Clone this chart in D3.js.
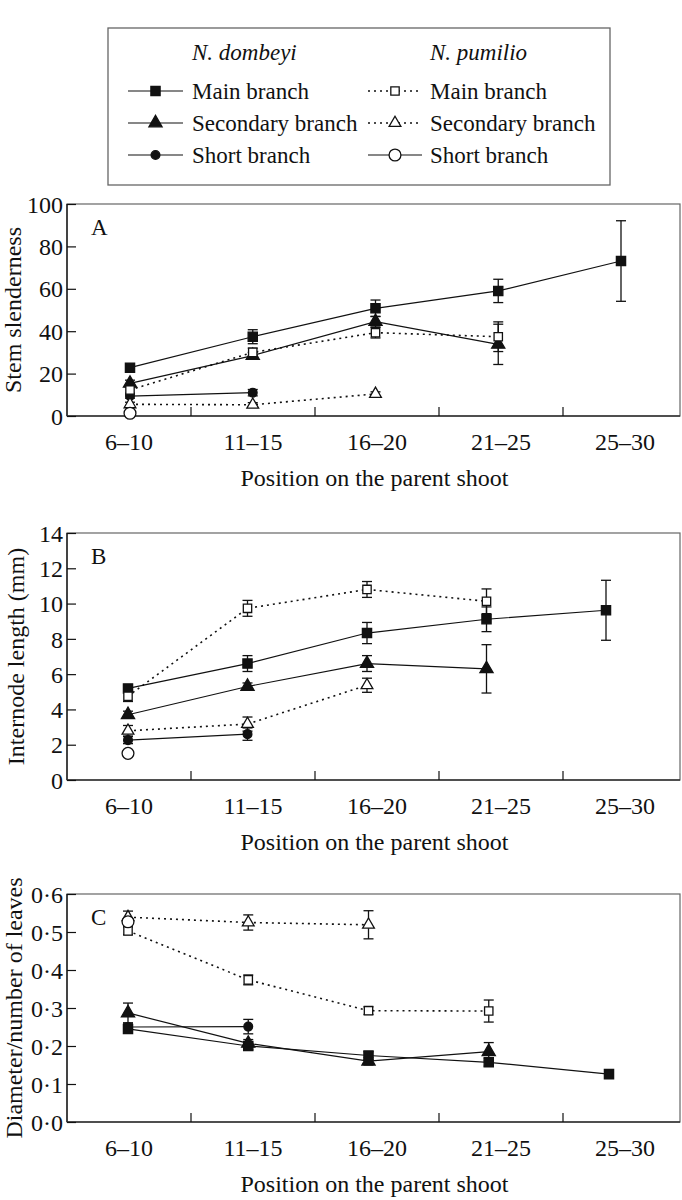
<!DOCTYPE html>
<html><head><meta charset="utf-8">
<script src="https://cdn.jsdelivr.net/npm/d3@7"></script>
<style>
html,body{margin:0;padding:0;background:#fff;}
svg text{font-family:"Liberation Serif","DejaVu Serif",serif;fill:#111;}
</style></head>
<body><svg id="c" width="682" height="1200"></svg>
<script>
// ---------- DATA ----------
const categories = ["6–10", "11–15", "16–20", "21–25", "25–30"];
const xTitle = "Position on the parent shoot";

// Panel A – Stem slenderness
const yTicksA = [0, 20, 40, 60, 80, 100];
const aDomMain = [22.8, 37.4, 50.8, 59.0, 73.1];
const aDomMainErr = [1.5, 3.3, 3.9, 5.5, 19.0];
const aDomSec = [15.4, 28.5, 44.5, 33.8];
const aDomSecErr = [1.5, 1.5, 2.5, 9.5];
const aDomShort = [9.4, 11.0];
const aDomShortErr = [1.0, 1.5];
const aPumMain = [12.3, 30.0, 39.3, 37.4];
const aPumMainErr = [1.5, 2.0, 2.5, 7.0];
const aPumSec = [5.5, 5.3, 10.4];
const aPumSecErr = [1.0, 1.0, 1.0];
const aPumShort = [1.3];
const aPumShortErr = [1.0];

// Panel B – Internode length (mm)
const yTicksB = [0, 2, 4, 6, 8, 10, 12, 14];
const bDomMain = [5.19, 6.6, 8.33, 9.11, 9.62];
const bDomMainErr = [0.2, 0.45, 0.6, 0.7, 1.7];
const bDomSec = [3.7, 5.3, 6.6, 6.3];
const bDomSecErr = [0.2, 0.2, 0.45, 1.37];
const bDomShort = [2.26, 2.6];
const bDomShortErr = [0.2, 0.35];
const bPumMain = [4.75, 9.73, 10.8, 10.13];
const bPumMainErr = [0.3, 0.45, 0.45, 0.7];
const bPumSec = [2.79, 3.17, 5.37];
const bPumSecErr = [0.3, 0.4, 0.4];
const bPumShort = [1.51];
const bPumShortErr = [0.1];

// Panel C – Diameter/number of leaves
const yTicksC = [0, 0.1, 0.2, 0.3, 0.4, 0.5, 0.6];
const cDomMain = [0.245, 0.200, 0.175, 0.157, 0.126];
const cDomMainErr = [0.01, 0.01, 0.01, 0.01, 0.005];
const cDomSec = [0.287, 0.207, 0.160, 0.185];
const cDomSecErr = [0.026, 0.01, 0.01, 0.024];
const cDomShort = [0.250, 0.251];
const cDomShortErr = [0.01, 0.019];
const cPumMain = [0.503, 0.374, 0.293, 0.292];
const cPumMainErr = [0.01, 0.013, 0.01, 0.029];
const cPumSec = [0.539, 0.525, 0.519];
const cPumSecErr = [0.016, 0.02, 0.037];
const cPumShort = [0.527];
const cPumShortErr = [0.01];

const legendSpecies = ["N. dombeyi", "N. pumilio"];
const legendBranches = ["Main branch", "Secondary branch", "Short branch"];

// ---------- STYLES ----------
const styles = {
  domMain:  {shape: d3.symbolSquare,   size: 85, fill: "#111", dash: null},
  domSec:   {shape: d3.symbolTriangle, size: 75, fill: "#111", dash: null},
  domShort: {shape: d3.symbolCircle,   size: 60, fill: "#111", dash: null},
  pumMain:  {shape: d3.symbolSquare,   size: 70, fill: "#fff", dash: "2,4"},
  pumSec:   {shape: d3.symbolTriangle, size: 60, fill: "#fff", dash: "2,4"},
  pumShort: {shape: d3.symbolCircle,   size: 110, fill: "#fff", dash: null}
};

const panels = [
  {label: "A", title: "Stem slenderness", top: 204, bottom: 416, ticks: yTicksA, fmt: d => String(d),
   pts: [130, 621], tx: 13,
   series: [["domMain", aDomMain, aDomMainErr], ["domSec", aDomSec, aDomSecErr], ["domShort", aDomShort, aDomShortErr],
            ["pumMain", aPumMain, aPumMainErr], ["pumSec", aPumSec, aPumSecErr], ["pumShort", aPumShort, aPumShortErr]]},
  {label: "B", title: "Internode length (mm)", top: 533, bottom: 780, ticks: yTicksB, fmt: d => String(d),
   pts: [128, 606], tx: 16,
   series: [["domMain", bDomMain, bDomMainErr], ["domSec", bDomSec, bDomSecErr], ["domShort", bDomShort, bDomShortErr],
            ["pumMain", bPumMain, bPumMainErr], ["pumSec", bPumSec, bPumSecErr], ["pumShort", bPumShort, bPumShortErr]]},
  {label: "C", title: "Diameter/number of leaves", top: 894, bottom: 1122, ticks: yTicksC, fmt: d => d.toFixed(1).replace(".", "·"),
   pts: [128, 609], tx: 14,
   series: [["domMain", cDomMain, cDomMainErr], ["domSec", cDomSec, cDomSecErr], ["domShort", cDomShort, cDomShortErr],
            ["pumMain", cPumMain, cPumMainErr], ["pumSec", cPumSec, cPumSecErr], ["pumShort", cPumShort, cPumShortErr]]}
];

const svg = d3.select("#c");
const left = 67, right = 680;

panels.forEach(p => {
  const g = svg.append("g");
  const y = d3.scaleLinear().domain([p.ticks[0], p.ticks[p.ticks.length - 1]]).range([p.bottom, p.top]);
  const xBand = d3.scaleBand().domain(categories).range([left, left + 124 * categories.length]);
  const xPt = d3.scalePoint().domain(categories).range(p.pts);

  // frame
  g.append("rect").attr("x", left).attr("y", p.top).attr("width", right - left).attr("height", p.bottom - p.top)
    .attr("fill", "none").attr("stroke", "#666").attr("stroke-width", 1.2);
  g.append("line").attr("x1", left).attr("x2", left).attr("y1", p.top).attr("y2", p.bottom).attr("stroke", "#111").attr("stroke-width", 1.3);
  g.append("line").attr("x1", left).attr("x2", right).attr("y1", p.bottom).attr("y2", p.bottom).attr("stroke", "#333").attr("stroke-width", 1.3);

  // y axis (inward ticks)
  const yAxis = d3.axisLeft(y).tickValues(p.ticks).tickFormat(p.fmt).tickSizeInner(-9).tickSizeOuter(0).tickPadding(5);
  const ya = g.append("g").attr("transform", `translate(${left},0)`).call(yAxis);
  ya.select(".domain").remove();
  ya.selectAll(".tick line").attr("stroke", "#111").attr("stroke-width", 1.2);
  ya.selectAll(".tick text").attr("font-size", 24).attr("font-family", "Liberation Serif").attr("fill", "#111")
    .attr("x", -4).attr("dy", "0.34em");

  // x axis: inward ticks at band boundaries, labels at band centers
  const bounds = categories.slice(1).map(c => xBand(c));
  g.selectAll(".xt").data(bounds).enter().append("line")
    .attr("x1", d => d).attr("x2", d => d).attr("y1", p.bottom).attr("y2", p.bottom - 9)
    .attr("stroke", "#111").attr("stroke-width", 1.2);
  g.selectAll(".xl").data(categories).enter().append("text")
    .attr("x", d => xBand(d) + xBand.bandwidth() / 2).attr("y", p.bottom + 34)
    .attr("text-anchor", "middle").attr("font-size", 24).text(d => d);
  g.append("text").attr("x", (left + right) / 2 + 1).attr("y", p.bottom + 70).attr("text-anchor", "middle")
    .attr("font-size", 24).text(xTitle);

  // y title
  g.append("text").attr("transform", `translate(${p.tx},${(p.top + p.bottom) / 2}) rotate(-90)`)
    .attr("text-anchor", "middle").attr("dy", "0.35em").attr("font-size", 24).text(p.title);
  // panel letter
  g.append("text").attr("x", 91).attr("y", p.top + 31).attr("font-size", 23).text(p.label);

  const line = d3.line().x((d, i) => xPt(categories[i])).y(d => y(d));
  // lines
  p.series.forEach(([k, vals]) => {
    const s = styles[k];
    if (vals.length > 1)
      g.append("path").attr("d", line(vals)).attr("fill", "none").attr("stroke", "#111")
        .attr("stroke-width", s.dash ? 1.6 : 1.2).attr("stroke-dasharray", s.dash);
  });
  // error bars
  p.series.forEach(([k, vals, errs]) => {
    vals.forEach((v, i) => {
      const cx = xPt(categories[i]);
      const e = errs[i];
      const y1 = y(v + e), y2 = y(v - e);
      g.append("line").attr("x1", cx).attr("x2", cx).attr("y1", y1).attr("y2", y2).attr("stroke", "#111").attr("stroke-width", 1.3);
      [y1, y2].forEach(yy => g.append("line").attr("x1", cx - 5).attr("x2", cx + 5).attr("y1", yy).attr("y2", yy)
        .attr("stroke", "#111").attr("stroke-width", 1.3));
    });
  });
  // markers
  p.series.forEach(([k, vals]) => {
    const s = styles[k];
    const sym = d3.symbol().type(s.shape).size(s.size);
    vals.forEach((v, i) => {
      g.append("path").attr("d", sym()).attr("transform", `translate(${xPt(categories[i])},${y(v)})`)
        .attr("fill", s.fill).attr("stroke", "#111").attr("stroke-width", 1.3);
    });
  });
});

// ---------- LEGEND ----------
const lg = svg.append("g");
lg.append("rect").attr("x", 108).attr("y", 28).attr("width", 502).attr("height", 157)
  .attr("fill", "none").attr("stroke", "#666").attr("stroke-width", 1.3);
const colX = [192, 430];
const lineX = [[128, 183], [368, 422]];
const rowY = [91, 123, 155];
const legKeys = [["domMain", "domSec", "domShort"], ["pumMain", "pumSec", "pumShort"]];
legendSpecies.forEach((sp, c) => {
  lg.append("text").attr("x", colX[c]).attr("y", 60).attr("font-size", 23).attr("font-style", "italic").text(sp);
  legendBranches.forEach((b, r) => {
    const s = styles[legKeys[c][r]];
    lg.append("line").attr("x1", lineX[c][0]).attr("x2", lineX[c][1]).attr("y1", rowY[r]).attr("y2", rowY[r])
      .attr("stroke", "#111").attr("stroke-width", s.dash ? 1.6 : 1.2).attr("stroke-dasharray", s.dash);
    const mx = (lineX[c][0] + lineX[c][1]) / 2;
    lg.append("path").attr("d", d3.symbol().type(s.shape).size(s.size)()).attr("transform", `translate(${mx},${rowY[r]})`)
      .attr("fill", s.fill).attr("stroke", "#111").attr("stroke-width", 1.3);
    lg.append("text").attr("x", colX[c]).attr("y", rowY[r] + 7.5).attr("font-size", 23).text(b);
  });
});
</script></body></html>
